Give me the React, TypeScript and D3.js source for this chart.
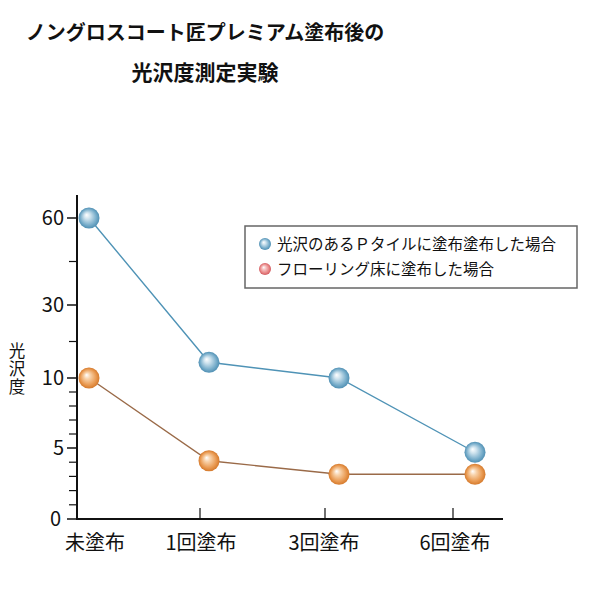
import React from "react";
import * as d3 from "d3";

const categories = ["未塗布", "1回塗布", "3回塗布", "6回塗布"];
const tileGloss = [60, 14.3, 10, 4.7];
const floorGloss = [10, 4.1, 3.15, 3.15];
const majorTicks = [0, 5, 10, 30, 60];
const minorTicks = [1, 2, 3, 4, 6, 7, 8, 9, 20, 45];
const legendLabels = ["光沢のあるＰタイルに塗布塗布した場合", "フローリング床に塗布した場合"];
const titleLines = ["ノングロスコート匠プレミアム塗布後の", "光沢度測定実験"];
const yTitle = "光沢度";

const FONT = "'Noto Sans CJK JP', 'Noto Sans', sans-serif";

export default function App() {
  const W = 600, H = 594;
  const axisX = 77, axisY = 519;
  // piecewise (non-uniform) value axis as in the original
  const y = d3.scaleLinear().domain([0, 5, 10, 30, 60]).range([519, 448, 378, 305, 218]);
  const xDot = d3.scaleLinear().domain([0, 1, 2, 3]).range([89, 209, 339, 475]);
  const xLab = d3.scaleLinear().domain([0, 1, 2, 3]).range([95, 201, 324, 455]);
  const xTick = d3.scaleLinear().domain([1, 2, 3]).range([200, 325, 453]);

  const line = d3.line<number>().x((_, i) => xDot(i)).y((d) => y(d));

  const series = [
    { values: tileGloss, stroke: "#4f93b6", grad: "gBlue" },
    { values: floorGloss, stroke: "#9a6a48", grad: "gOrange" },
  ];

  return (
    <div style={{ position: "absolute", left: 0, top: 0 }}>
      <svg width={W} height={H} style={{ display: "block", background: "#fff" }}>
        <defs>
          <radialGradient id="gBlue" cx="50%" cy="50%" r="50%" fx="38%" fy="35%">
            <stop offset="0%" stopColor="#ffffff" />
            <stop offset="30%" stopColor="#cfe3ee" />
            <stop offset="75%" stopColor="#79aecb" />
            <stop offset="100%" stopColor="#4f8fb3" />
          </radialGradient>
          <radialGradient id="gOrange" cx="50%" cy="50%" r="50%" fx="38%" fy="35%">
            <stop offset="0%" stopColor="#ffffff" />
            <stop offset="30%" stopColor="#f8d2aa" />
            <stop offset="75%" stopColor="#e99a52" />
            <stop offset="100%" stopColor="#d57a2c" />
          </radialGradient>
          <radialGradient id="gPink" cx="50%" cy="50%" r="50%" fx="38%" fy="35%">
            <stop offset="0%" stopColor="#ffffff" />
            <stop offset="30%" stopColor="#f6c6c6" />
            <stop offset="75%" stopColor="#e78383" />
            <stop offset="100%" stopColor="#d25a5f" />
          </radialGradient>
        </defs>

        {/* title */}
        {titleLines.map((t, i) => (
          <text key={t} x={205} y={i === 0 ? 40 : 80} textAnchor="middle"
            fontFamily={FONT} fontWeight={700} fontSize={i === 0 ? 20 : 21} fill="#111">
            {t}
          </text>
        ))}

        {/* y axis */}
        <line x1={axisX} x2={axisX} y1={195} y2={axisY} stroke="#111" strokeWidth={2} />
        {majorTicks.map((v) => (
          <g key={"M" + v}>
            <line x1={axisX - 10} x2={axisX} y1={y(v)} y2={y(v)} stroke="#111" strokeWidth={1.5} />
            <text x={v === 0 ? 61 : 64} y={y(v)} dy="0.36em" textAnchor="end"
              fontFamily={FONT} fontSize={20} fill="#111">{v}</text>
          </g>
        ))}
        {minorTicks.map((v) => (
          <line key={"m" + v} x1={axisX - 8} x2={axisX} y1={y(v)} y2={y(v)} stroke="#111" strokeWidth={1.2} />
        ))}
        <text x={17} y={342} style={{ writingMode: "vertical-rl" }} letterSpacing={1.5}
          fontFamily={FONT} fontSize={16.5} fill="#111">{yTitle}</text>

        {/* x axis */}
        <line x1={axisX - 1} x2={503} y1={axisY} y2={axisY} stroke="#111" strokeWidth={2} />
        {[1, 2, 3].map((i) => (
          <line key={"t" + i} x1={xTick(i)} x2={xTick(i)} y1={axisY} y2={axisY - 11} stroke="#111" strokeWidth={1.2} />
        ))}
        {categories.map((c, i) => (
          <text key={c} x={xLab(i)} y={543} dy="0.36em" textAnchor="middle"
            fontFamily={FONT} fontSize={20} fill="#111">{c}</text>
        ))}

        {/* series */}
        {series.map((s) => (
          <g key={s.grad}>
            <path d={line(s.values) || ""} fill="none" stroke={s.stroke} strokeWidth={1.4} />
            {s.values.map((v, i) => (
              <circle key={i} cx={xDot(i)} cy={y(v)} r={10.5} fill={`url(#${s.grad})`} />
            ))}
          </g>
        ))}

        {/* legend */}
        <rect x={245} y={226} width={332} height={62} fill="#fff" stroke="#666" strokeWidth={1.5} />
        {legendLabels.map((t, i) => (
          <g key={t}>
            <circle cx={265} cy={244 + i * 25} r={6} fill={i === 0 ? "url(#gBlue)" : "url(#gPink)"} />
            <text x={277} y={244 + i * 25} dy="0.36em" fontFamily={FONT} fontSize={15.5} fill="#111">{t}</text>
          </g>
        ))}
      </svg>
    </div>
  );
}
